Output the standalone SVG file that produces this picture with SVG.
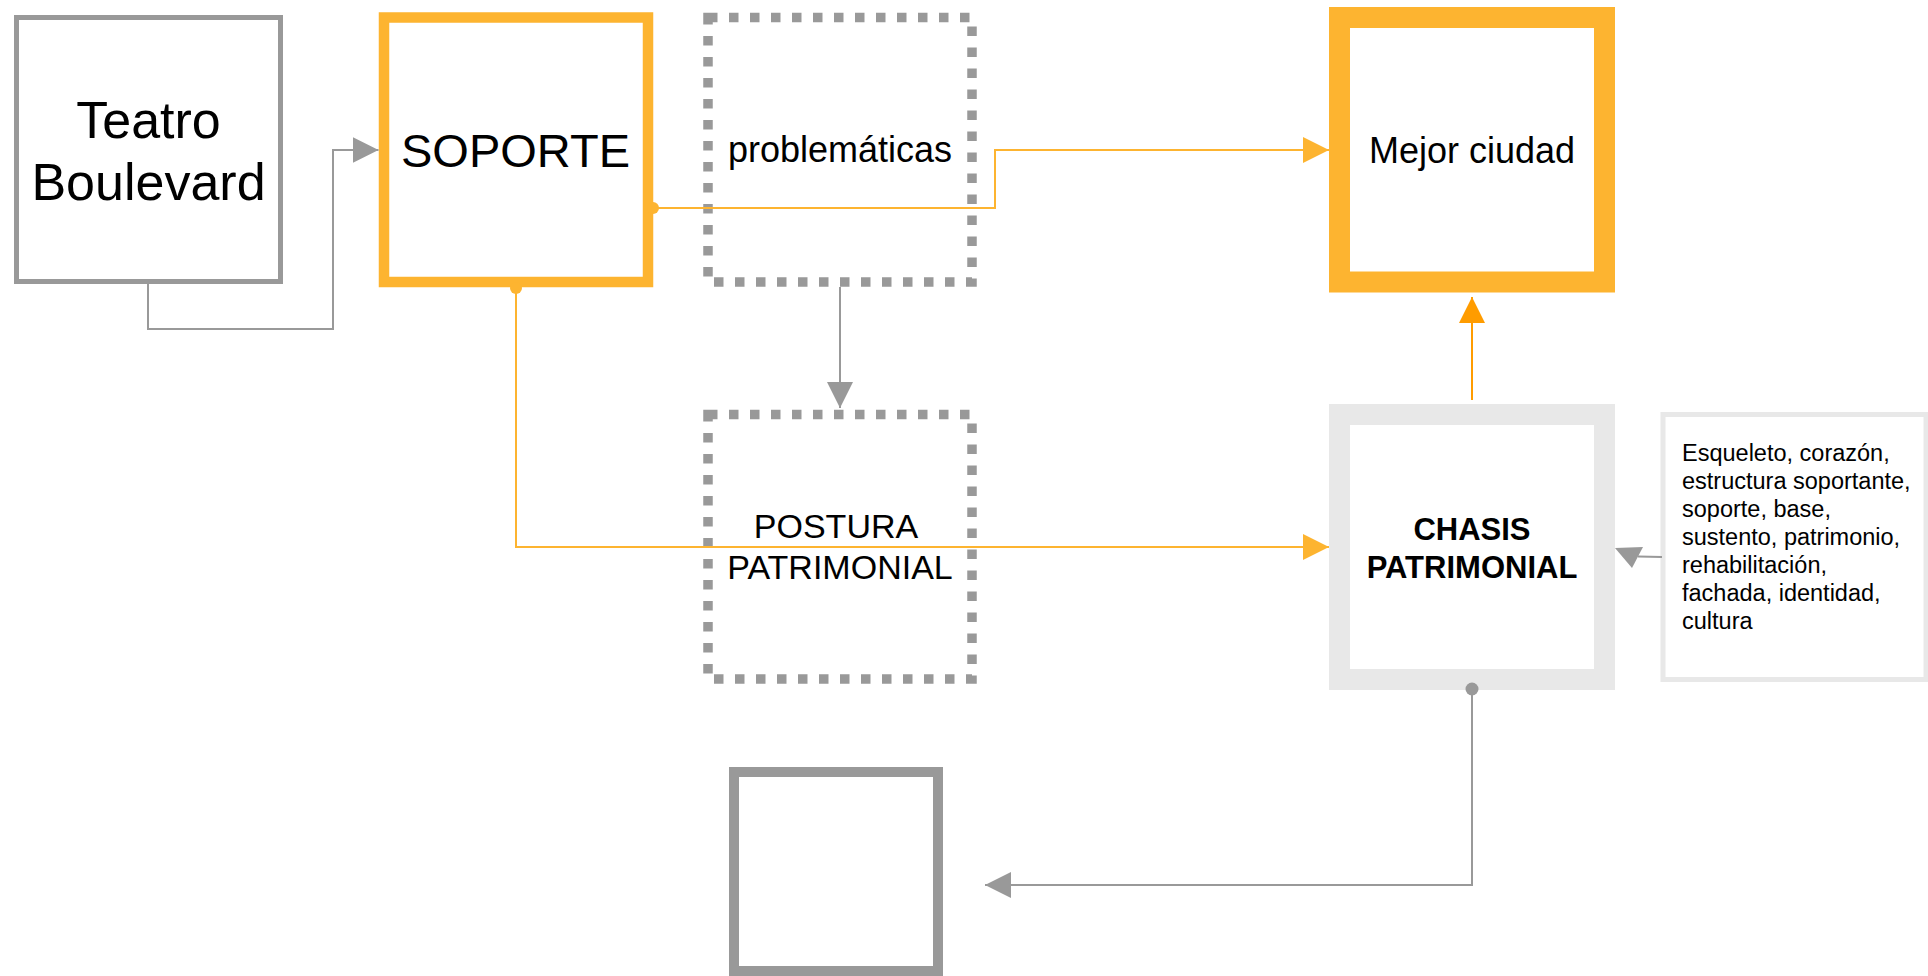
<svg xmlns="http://www.w3.org/2000/svg" width="1928" height="976" viewBox="0 0 1928 976">
<defs>
<style>
text{font-family:"Liberation Sans",Arial,sans-serif;fill:#000;text-anchor:middle}
.box{fill:#fff}
.grey{stroke:#999999}
.orange{stroke:#FDB430}
.dotted{fill:none;stroke:#999999;stroke-width:9.5;stroke-dasharray:9.5 11.5}
.conn{fill:none;stroke-width:2}
.lt{text-anchor:start}
</style>
<marker id="ag" markerUnits="userSpaceOnUse" markerWidth="26" markerHeight="26" refX="26" refY="13" orient="auto"><path d="M0,0 L26,13 L0,26 z" fill="#999999"/></marker>
<marker id="ao" markerUnits="userSpaceOnUse" markerWidth="26" markerHeight="26" refX="26" refY="13" orient="auto"><path d="M0,0 L26,13 L0,26 z" fill="#FDB430"/></marker>
<marker id="ao2" markerUnits="userSpaceOnUse" markerWidth="26" markerHeight="26" refX="26" refY="13" orient="auto"><path d="M0,0 L26,13 L0,26 z" fill="#FF9C00"/></marker>
</defs>
<rect width="1928" height="976" fill="#fff"/>

<g id="teatro">
<rect class="box grey" x="16.5" y="17.5" width="264" height="264" stroke-width="5"/>
<text x="148.5" y="138" font-size="52">Teatro</text>
<text x="148.5" y="200" font-size="52">Boulevard</text>
</g>

<g id="soporte">
<rect class="box orange" x="384" y="17.5" width="264" height="264.5" stroke-width="10.5"/>
<text x="515.5" y="167" font-size="47">SOPORTE</text>
</g>

<g id="problematicas">
<rect class="dotted" x="708" y="17.5" width="264" height="264.5"/>
<text x="840" y="162" font-size="36">problemáticas</text>
</g>

<g id="mejor-ciudad">
<rect class="box orange" x="1339.5" y="17.5" width="265" height="264.5" stroke-width="21"/>
<text x="1472" y="163" font-size="36">Mejor ciudad</text>
</g>

<g id="postura">
<rect class="dotted" x="708" y="414.5" width="264" height="264.5"/>
<text x="836" y="538" font-size="34">POSTURA</text>
<text x="840" y="579" font-size="34">PATRIMONIAL</text>
</g>

<g id="chasis">
<rect class="box" x="1339.5" y="414.5" width="265" height="265" stroke="#E8E8E8" stroke-width="21"/>
<text x="1472" y="540" font-size="31" font-weight="bold">CHASIS</text>
<text x="1472" y="578" font-size="31" font-weight="bold">PATRIMONIAL</text>
</g>

<g id="descripcion">
<rect class="box" x="1663" y="414.5" width="263" height="265" stroke="#E8E8E8" stroke-width="5"/>
<g font-size="23.5">
<text class="lt" x="1682" y="461">Esqueleto, corazón,</text>
<text class="lt" x="1682" y="489">estructura soportante,</text>
<text class="lt" x="1682" y="517">soporte, base,</text>
<text class="lt" x="1682" y="545">sustento, patrimonio,</text>
<text class="lt" x="1682" y="573">rehabilitación,</text>
<text class="lt" x="1682" y="601">fachada, identidad,</text>
<text class="lt" x="1682" y="629">cultura</text>
</g>
</g>

<g id="vacio">
<rect class="box grey" x="734" y="772" width="204" height="199" stroke-width="10"/>
</g>

<g id="connectors">
<path class="conn grey" d="M148,284 V329 H333 V150 H378.5" marker-end="url(#ag)"/>
<path class="conn orange" d="M653,208 H995 V150 H1329" marker-end="url(#ao)"/>
<circle cx="653" cy="208" r="6" fill="#FDB430"/>
<path class="conn orange" d="M516,287 V547 H1329" marker-end="url(#ao)"/>
<circle cx="516" cy="288" r="6" fill="#FDB430"/>
<path class="conn grey" d="M840,287 V408" marker-end="url(#ag)"/>
<path class="conn" stroke="#FF9C00" d="M1472,400 V297" marker-end="url(#ao2)"/>
<path class="conn grey" d="M1472,689 V885 H985" marker-end="url(#ag)"/>
<circle cx="1472" cy="689" r="6.5" fill="#999999"/>
<path class="conn grey" d="M1662,557 L1638,556.5"/>
<polygon points="1615,548 1643,547 1632,568" fill="#999999"/>
</g>
</svg>
